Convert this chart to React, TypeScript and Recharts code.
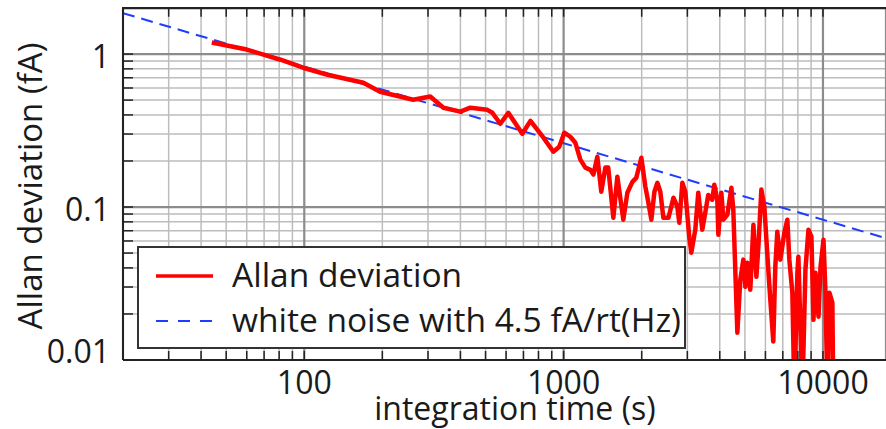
import React from 'react';
import { ComposedChart, Line, XAxis, YAxis, CartesianGrid } from 'recharts';

// ---- data ----
const tau = [44, 60, 81, 99, 123, 169, 196, 263, 306, 344, 400, 437, 508, 531, 570, 612, 693, 745, 836, 913,
  962, 1006, 1061, 1110, 1160, 1213, 1268, 1303, 1349, 1397, 1448, 1486, 1555, 1611, 1699, 1761, 1841, 1906, 1994, 2066,
  2122, 2179, 2239, 2299, 2360, 2424, 2537, 2651, 2744, 2793, 2869, 2946, 3053, 3107, 3219, 3305, 3425, 3517, 3612, 3743,
  3810, 3914, 3950, 4056, 4131, 4280, 4435, 4511, 4676, 4800, 4932, 5019, 5108, 5246, 5392, 5537, 5636, 5787, 5942, 6155,
  6266, 6434, 6550, 6667, 6849, 7095, 7288, 7418, 7620, 7757, 7968, 8039, 8330, 8558, 8791, 9025, 9190, 9355, 9612, 9786,
  10046, 10225, 10400, 10595, 10870, 10960];
const allan = [1.19, 1.07, 0.918, 0.814, 0.732, 0.649, 0.567, 0.503, 0.528, 0.446, 0.42, 0.446, 0.432, 0.413, 0.35, 0.413, 0.301, 0.366, 0.284, 0.23,
  0.248, 0.306, 0.288, 0.263, 0.204, 0.181, 0.175, 0.163, 0.213, 0.126, 0.181, 0.181, 0.0851, 0.158, 0.0826, 0.124, 0.146, 0.155, 0.21, 0.136,
  0.107, 0.0826, 0.126, 0.144, 0.126, 0.0851, 0.0851, 0.115, 0.1005, 0.0789, 0.144, 0.126, 0.063, 0.0503, 0.0711, 0.124, 0.0711, 0.0918, 0.12, 0.1116,
  0.14, 0.1116, 0.0659, 0.124, 0.0826, 0.0891, 0.1337, 0.096, 0.01508, 0.0335, 0.0453, 0.0301, 0.0432, 0.0288, 0.0766, 0.035, 0.055, 0.13, 0.1005, 0.0389,
  0.0248, 0.0132, 0.0407, 0.069, 0.0453, 0.0679, 0.0826, 0.0453, 0.0275, 0.006, 0.0372, 0.0473, 0.006, 0.0389, 0.0711, 0.064, 0.0183, 0.0372, 0.0192, 0.0407,
  0.0611, 0.0275, 0.006, 0.0275, 0.0237, 0.006];
const whiteTau = [20, 17500];
const whiteVal = [1.85, 0.0625];

const xDomain = [20, 17500];
const yDomain = [0.01, 2];
const xMajor = [100, 1000, 10000];
const xTickLabels = ['100', '1000', '10000'];
const xMinor = [30, 40, 50, 60, 70, 80, 90, 200, 300, 400, 500, 600, 700, 800, 900,
  2000, 3000, 4000, 5000, 6000, 7000, 8000, 9000];
const yMajor = [0.01, 0.1, 1];
const yTickLabels = ['0.01', '0.1', '1'];
const yMinor = [0.02, 0.03, 0.04, 0.05, 0.06, 0.07, 0.08, 0.09, 0.2, 0.3, 0.4, 0.5, 0.6, 0.7, 0.8, 0.9];
const yGridMajor = [0.1, 1];
const yFrameTop = [1.99];
const topTickStart = 2;
const topTickEnd = 1.75;

const seriesNames = ['Allan deviation', 'white noise with 4.5 fA/rt(Hz)'];
const xTitle = 'integration time (s)';
const yTitle = 'Allan deviation (fA)';

const allanData = tau.map((t, i) => ({ t, v: allan[i] }));
const whiteData = whiteTau.map((t, i) => ({ t, v: whiteVal[i] }));

const xTicks = [...xMinor, ...xMajor].sort((a, b) => a - b);
const yTicks = [...yMinor, ...yMajor].sort((a, b) => a - b);

// short inward tick marks on the top frame, as broken line segments
const topTickData = xTicks.flatMap((t) => [
  { t, v: topTickStart },
  { t, v: topTickEnd },
  { t, v: null },
]);

const W = 886;
const H = 429;
const FONT = '"Open Sans", sans-serif';
const TXT = '#1a1a1a';
const AX = '#222222';
const RED = '#ff0000';
const BLUE = '#1f3dff';

function BottomTick(props: any) {
  const { x, y, payload } = props;
  const i = xMajor.indexOf(payload.value);
  return (
    <g>
      <line x1={x} x2={x} y1={y} y2={y - 9} stroke={AX} strokeWidth={1.5} />
      {i >= 0 && (
        <text x={x} y={y + 34} textAnchor="middle" fontSize={32} fontFamily={FONT} fill={TXT}>
          {xTickLabels[i]}
        </text>
      )}
    </g>
  );
}

function LeftTick(props: any) {
  const { x, y, payload } = props;
  const i = yMajor.indexOf(payload.value);
  return (
    <g>
      <line x1={x} x2={x + 10} y1={y} y2={y} stroke={AX} strokeWidth={1.5} />
      {i >= 0 && (
        <text x={x - 13} y={i === 0 ? y + 3 : y + 14} textAnchor="end" fontSize={32} fontFamily={FONT} fill={TXT}>
          {yTickLabels[i]}
        </text>
      )}
    </g>
  );
}

const logX = { type: 'number' as const, scale: 'log' as const, domain: xDomain, allowDataOverflow: true, dataKey: 't' };
const logY = { type: 'number' as const, scale: 'log' as const, domain: yDomain, allowDataOverflow: true };

export default function App() {
  return (
    <div style={{ position: 'absolute', left: 0, top: 0, width: W, height: H, background: '#fff', overflow: 'hidden' }}>
      <ComposedChart width={W} height={H} margin={{ top: 8, right: 0, bottom: 0, left: 0 }}>
        {/* hidden axes that only feed the grid lines */}
        <XAxis xAxisId="gmin" {...logX} ticks={xMinor} interval={0} hide />
        <XAxis xAxisId="gmaj" {...logX} ticks={xMajor} interval={0} hide />
        <YAxis yAxisId="gmin" {...logY} ticks={yMinor} interval={0} hide />
        <YAxis yAxisId="gmaj" {...logY} ticks={yGridMajor} interval={0} hide />
        <YAxis yAxisId="gframe" {...logY} ticks={yFrameTop} interval={0} hide />
        <CartesianGrid xAxisId="gmin" yAxisId="gmin" stroke="#bdbdbd" strokeWidth={1.5} />
        <CartesianGrid xAxisId="gmaj" yAxisId="gmaj" stroke="#8c8c8c" strokeWidth={2.2} />
        <CartesianGrid xAxisId="gmaj" yAxisId="gframe" vertical={false} stroke={AX} strokeWidth={2} />
        <XAxis
          {...logX}
          ticks={xTicks}
          interval={0}
          height={69}
          tickLine={false}
          tickSize={0}
          tickMargin={0}
          tick={BottomTick}
          axisLine={{ stroke: AX, strokeWidth: 2 }}
        />
        <YAxis
          {...logY}
          ticks={yTicks}
          interval={0}
          width={123}
          tickLine={false}
          tickSize={0}
          tickMargin={0}
          tick={LeftTick}
          axisLine={{ stroke: AX, strokeWidth: 2 }}
        />
        <Line
          data={topTickData}
          dataKey="v"
          stroke={AX}
          strokeWidth={1.5}
          connectNulls={false}
          dot={false}
          legendType="none"
          isAnimationActive={false}
        />
        <Line
          data={whiteData}
          dataKey="v"
          stroke={BLUE}
          strokeWidth={2}
          strokeDasharray="12 7"
          dot={false}
          isAnimationActive={false}
        />
        <Line
          data={allanData}
          dataKey="v"
          stroke={RED}
          strokeWidth={4.5}
          strokeLinejoin="round"
          dot={false}
          isAnimationActive={false}
        />
      </ComposedChart>
      <svg width={W} height={H} style={{ position: 'absolute', left: 0, top: 0, pointerEvents: 'none' }}>
        <line x1={122} x2={W} y1={8} y2={8} stroke={AX} strokeWidth={2} />
        <text x={515} y={420} textAnchor="middle" fontSize={32} fontFamily={FONT} fill={TXT}>
          {xTitle}
        </text>
        <text
          transform="translate(42,186) rotate(-90)"
          textAnchor="middle"
          fontSize={33}
          fontFamily={FONT}
          fill={TXT}
        >
          {yTitle}
        </text>
        <rect x={138} y={247} width={547} height={101} fill="#fff" stroke="#333" strokeWidth={2} />
        <line x1={156} x2={213} y1={276} y2={276} stroke={RED} strokeWidth={3.5} />
        <line x1={156} x2={213} y1={321} y2={321} stroke={BLUE} strokeWidth={2} strokeDasharray="12 10" />
        <text x={232} y={287} fontSize={33.5} fontFamily={FONT} fill={TXT}>
          {seriesNames[0]}
        </text>
        <text x={232} y={332} fontSize={33.5} fontFamily={FONT} fill={TXT}>
          {seriesNames[1]}
        </text>
      </svg>
    </div>
  );
}
